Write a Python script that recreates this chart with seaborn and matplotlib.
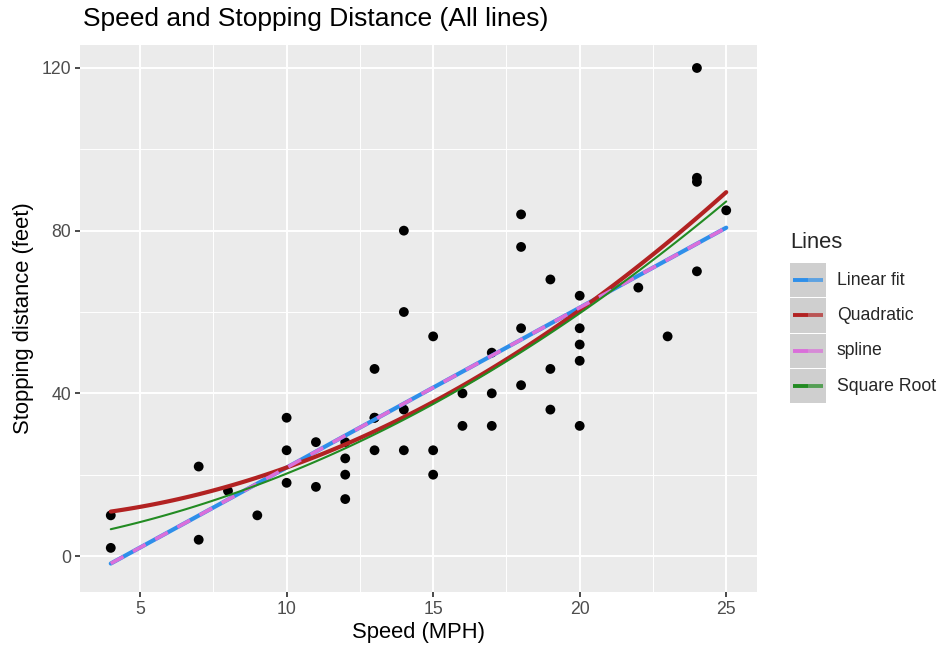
import numpy as np
import pandas as pd
import matplotlib
matplotlib.use("Agg")
import matplotlib.pyplot as plt
import seaborn as sns
from matplotlib.patches import Rectangle

speed = [4, 4, 7, 7, 8, 9, 10, 10, 10, 11, 11, 12, 12, 12, 12, 13, 13, 13, 13,
         14, 14, 14, 14, 15, 15, 15, 16, 16, 17, 17, 17, 18, 18, 18, 18, 19, 19,
         19, 20, 20, 20, 20, 20, 22, 23, 24, 24, 24, 24, 25]
dist = [2, 10, 4, 22, 16, 10, 18, 26, 34, 17, 28, 14, 20, 24, 28, 26, 34, 34, 46,
        26, 36, 60, 80, 20, 26, 54, 32, 40, 32, 40, 50, 42, 56, 76, 84, 36, 46,
        68, 32, 48, 52, 56, 64, 66, 54, 70, 92, 93, 120, 85]
line_names = ["Linear fit", "Quadratic", "spline", "Square Root"]
line_colors = ["#2E8FEA", "#B22222", "#DA6FDA", "#228B22"]

sns.set_theme(style="darkgrid")
plt.rcParams["font.family"] = ["Liberation Sans", "DejaVu Sans"]

df = pd.DataFrame({"speed": speed, "dist": dist})
sp = np.array(speed, float)
ds = np.array(dist, float)
grid = np.linspace(sp.min(), sp.max(), 100)

b_lin = np.polyfit(sp, ds, 1)
b_quad = np.polyfit(sp ** 2, ds, 1)
b_sqrt = np.polyfit(sp, np.sqrt(ds), 1)
fits = {
    "Linear fit": np.polyval(b_lin, grid),
    "Quadratic": np.polyval(b_quad, grid ** 2),
    "spline": np.polyval(b_lin, grid),
    "Square Root": np.polyval(b_sqrt, grid) ** 2,
}

fig = plt.figure(figsize=(9.48, 6.59), dpi=100)
ax = fig.add_axes([80 / 948, 1 - 592 / 659, 677 / 948, 547 / 659])
ax.set_facecolor("#EBEBEB")

sns.scatterplot(data=df, x="speed", y="dist", ax=ax, color="black", s=50,
                edgecolor="none", zorder=3)

styles = {
    "Linear fit": dict(lw=3.0, zorder=4),
    "Quadratic": dict(lw=3.0, zorder=4),
    "spline": dict(lw=2.6, zorder=5, dashes=(4, 3)),
    "Square Root": dict(lw=1.5, zorder=6),
}
for name, col in zip(line_names, line_colors):
    st = styles[name]
    ldf = pd.DataFrame({"x": grid, "y": fits[name]})
    kw = dict(color=col, lw=st["lw"], zorder=st["zorder"], ax=ax, legend=False)
    l = sns.lineplot(data=ldf, x="x", y="y", **kw)
    if "dashes" in st:
        l.lines[-1].set_dashes(st["dashes"])

ax.set_xlim(2.95, 26.05)
ax.set_ylim(-8.85, 125.65)
ax.set_xticks([5, 10, 15, 20, 25])
ax.set_yticks([0, 40, 80, 120])
ax.set_xticks([7.5, 12.5, 17.5, 22.5], minor=True)
ax.set_yticks([20, 60, 100], minor=True)
ax.grid(which="major", color="white", lw=1.4)
ax.grid(which="minor", color="white", lw=0.7)
ax.tick_params(which="major", length=3.5, color="#333333", labelcolor="#4D4D4D",
               labelsize=12.7, pad=3, left=True, bottom=True)
ax.tick_params(which="minor", length=0)
for s in ax.spines.values():
    s.set_visible(False)
ax.set_xlabel("Speed (MPH)", fontsize=15.8, color="black", labelpad=3)
ax.set_ylabel("Stopping distance (feet)", fontsize=15.8, color="black", labelpad=5)
fig.text(83 / 948, 1 - 19 / 659, "Speed and Stopping Distance (All lines)",
         fontsize=19, color="black", va="center", ha="left")

# legend
lax = fig.add_axes([0, 0, 1, 1], facecolor="none")
lax.set_xlim(0, 948)
lax.set_ylim(659, 0)
lax.axis("off")
lax.text(790, 242, "Lines", fontsize=15.8, va="center", ha="left")
key_top = 263
key_h = 35.3
for i, (name, col) in enumerate(zip(line_names, line_colors)):
    y0 = key_top + i * key_h
    lax.add_patch(Rectangle((790, y0), 36, key_h - 1, facecolor="#CFCFCF",
                            edgecolor="none"))
    yc = y0 + (key_h - 1) / 2
    lax.plot([793, 808], [yc, yc], color=col, lw=2.8, solid_capstyle="butt")
    lax.plot([808, 823], [yc, yc], color=col, lw=2.8, alpha=0.7,
             solid_capstyle="butt")
    lax.text(837, yc, name, fontsize=12.7, va="center", ha="left")

fig.savefig("out.png", dpi=100)
